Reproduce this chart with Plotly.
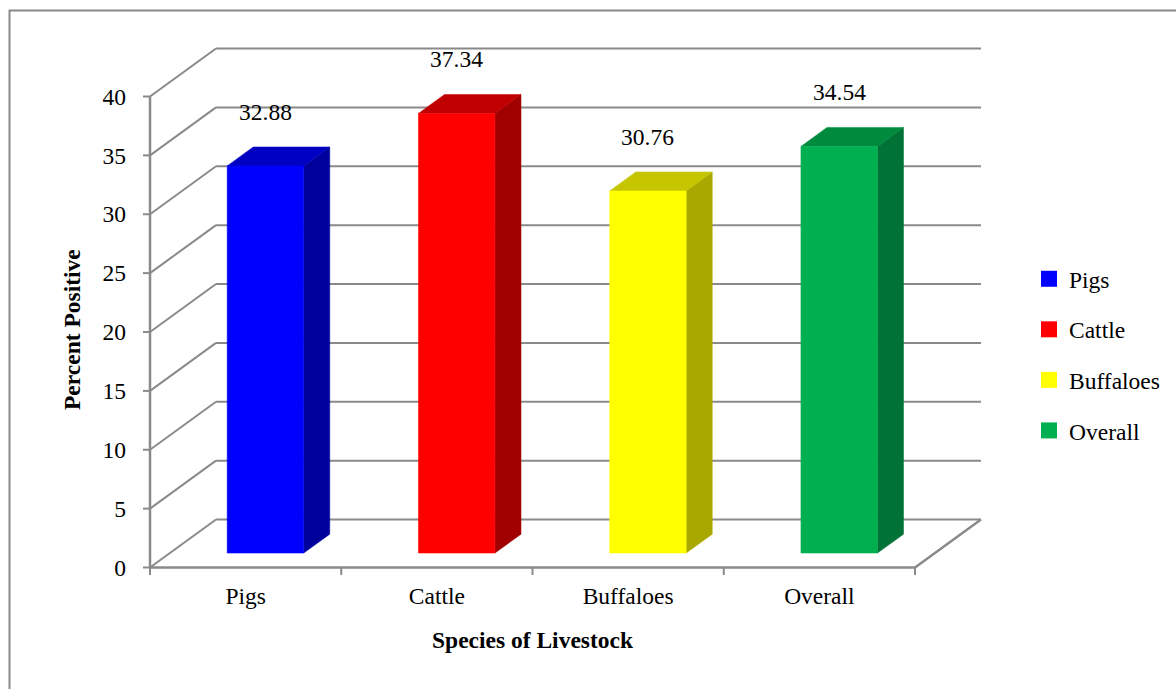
import plotly.graph_objects as go

# ---- data -------------------------------------------------------------
categories = ["Pigs", "Cattle", "Buffaloes", "Overall"]
percent_positive = [32.88, 37.34, 30.76, 34.54]
y_tick_values = [0, 5, 10, 15, 20, 25, 30, 35, 40]

front_colors = ["#0000FF", "#FF0000", "#FFFF00", "#00B050"]
top_colors = ["#0000C2", "#C00000", "#C6C600", "#008A3E"]
side_colors = ["#00009C", "#A00000", "#A8A800", "#007236"]

# ---- layout geometry ----------------------------------------------------
W, H = 1176, 689
M_L, M_R, M_T, M_B = 127, 184, 42, 110
PLOT_W = W - M_L - M_R
PLOT_H = H - M_T - M_B

PX_PER_CAT = 191.25      # pixels per category step
PX_PER_PCT = 11.775      # pixels per percentage point
AXIS_X_PX = 150          # front vertical axis
AXIS_Y_PX = 567.5        # front floor edge

x_lo = -0.5 - (AXIS_X_PX - M_L) / PX_PER_CAT
x_hi = x_lo + PLOT_W / PX_PER_CAT
y_hi = (AXIS_Y_PX - M_T) / PX_PER_PCT
y_lo = y_hi - PLOT_H / PX_PER_PCT

# depth vector of the pseudo-3D box (data units)
DX = 66 / PX_PER_CAT
DY = 48 / PX_PER_PCT
BAR_FRONT = 0.30         # depth fraction where bar fronts sit
BAR_DEPTH = 0.395        # depth fraction covered by each bar
BAR_W = 0.40
LABEL_GAP = 54 / PX_PER_PCT

GRID = "#8A8A8A"
FONT = "Liberation Serif"
FS = 23.5
n = len(categories)
x_first, x_last = -0.5, n - 0.5

fig = go.Figure()


def seg_trace(xs, ys, width=2):
    fig.add_trace(go.Scatter(x=xs, y=ys, mode="lines",
                             line=dict(color=GRID, width=width),
                             hoverinfo="skip", showlegend=False))


# back wall gridlines
xs, ys = [], []
for v in y_tick_values:
    xs += [x_first + DX, x_last + DX, None]
    ys += [v + DY, v + DY, None]
seg_trace(xs, ys)

# side wall diagonals
xs, ys = [], []
for v in y_tick_values:
    xs += [x_first, x_first + DX, None]
    ys += [v, v + DY, None]
seg_trace(xs, ys)

# front value axis, floor edge and right floor edge
seg_trace([x_first, x_first, None, x_first, x_last, x_last + DX],
          [y_tick_values[-1], 0, None, 0, 0, DY], width=2.5)

# tick marks
xs, ys = [], []
tick_dx = 7 / PX_PER_CAT
for v in y_tick_values:
    xs += [x_first - tick_dx, x_first, None]
    ys += [v, v, None]
tick_dy = 7.5 / PX_PER_PCT
for i in range(n + 1):
    b = x_first + i
    xs += [b, b, None]
    ys += [0, -tick_dy, None]
seg_trace(xs, ys)


def face(px, py, color):
    fig.add_trace(go.Scatter(x=px + [px[0]], y=py + [py[0]], mode="lines",
                             fill="toself", fillcolor=color,
                             line=dict(color=color, width=0.5),
                             hoverinfo="skip", showlegend=False))


ddx, ddy = BAR_DEPTH * DX, BAR_DEPTH * DY
for i, (cat, val) in enumerate(zip(categories, percent_positive)):
    xl = i + BAR_FRONT * DX - BAR_W / 2
    xr = xl + BAR_W
    yb = BAR_FRONT * DY
    yt = val + yb
    face([xr, xr + ddx, xr + ddx, xr], [yb, yb + ddy, yt + ddy, yt], side_colors[i])
    face([xl, xr, xr + ddx, xl + ddx], [yt, yt, yt + ddy, yt + ddy], top_colors[i])
    face([xl, xr, xr, xl], [yb, yb, yt, yt], front_colors[i])
    fig.add_annotation(x=i + BAR_FRONT * DX, y=yt + LABEL_GAP, text=f"{val:.2f}",
                       showarrow=False, xref="x", yref="y",
                       xanchor="center", yanchor="middle",
                       font=dict(family=FONT, size=FS, color="black"))

# legend entries
for cat, col in zip(categories, front_colors):
    fig.add_trace(go.Scatter(x=[None], y=[None], mode="markers", name=cat,
                             legendgroup=cat,
                             marker=dict(symbol="square", size=16, color=col)))


def paper_x(px):
    return (px - M_L) / PLOT_W


def paper_y(py):
    return (H - M_B - py) / PLOT_H


# axis titles
fig.add_annotation(x=1.5, y=paper_y(640), xref="x", yref="paper",
                   xanchor="center", yanchor="middle",
                   text="<b>Species of Livestock</b>", showarrow=False,
                   font=dict(family=FONT, size=FS, color="black"))
fig.add_annotation(x=paper_x(72), y=paper_y(330), xref="paper", yref="paper",
                   xanchor="center", yanchor="middle",
                   text="<b>Percent Positive</b>", showarrow=False, textangle=-90,
                   font=dict(family=FONT, size=FS, color="black"))

# outer frame
fig.add_shape(type="rect", xref="paper", yref="paper",
              x0=paper_x(9.5), x1=paper_x(W + 30),
              y0=paper_y(H + 30), y1=paper_y(10.5),
              line=dict(color=GRID, width=2), layer="below")

fig.update_layout(
    width=W, height=H,
    margin=dict(l=M_L, r=M_R, t=M_T, b=M_B, autoexpand=False),
    paper_bgcolor="white", plot_bgcolor="white",
    font=dict(family=FONT, size=FS, color="black"),
    xaxis=dict(range=[x_lo, x_hi], tickvals=list(range(n)), ticktext=categories,
               ticks="", showgrid=False, zeroline=False, showline=False,
               tickfont=dict(family=FONT, size=FS, color="black")),
    yaxis=dict(range=[y_lo, y_hi], tickvals=y_tick_values, ticks="",
               showgrid=False, zeroline=False, showline=False,
               tickfont=dict(family=FONT, size=FS, color="black")),
    legend=dict(x=paper_x(1029), y=paper_y(257), xanchor="left", yanchor="top",
                font=dict(family=FONT, size=FS, color="black"),
                tracegroupgap=17, bgcolor="rgba(0,0,0,0)"),
    showlegend=True,
)

fig.write_html("out.html")
